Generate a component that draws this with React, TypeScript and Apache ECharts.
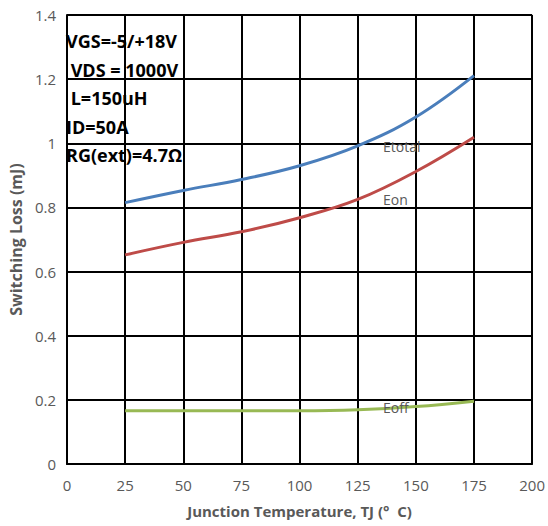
import React, { useEffect, useRef } from "react";
import * as echarts from "echarts";

const temps = [25, 50, 75, 100, 125, 150, 175];
const etotal = [0.815, 0.853, 0.887, 0.93, 0.992, 1.082, 1.211];
const eon = [0.652, 0.691, 0.724, 0.768, 0.825, 0.912, 1.019];
const eoff = [0.166, 0.166, 0.166, 0.166, 0.169, 0.179, 0.196];
const xTicks = [0, 25, 50, 75, 100, 125, 150, 175, 200];
const yTicks = [0, 0.2, 0.4, 0.6, 0.8, 1, 1.2, 1.4];
const conditions = ["VGS=-5/+18V", " VDS = 1000V", " L=150uH", "ID=50A", "RG(ext)=4.7Ω"];
const seriesNames = ["Etotal", "Eon", "Eoff"];

export default function App() {
  const ref = useRef<HTMLDivElement>(null);
  useEffect(() => {
    if (!ref.current) return;
    const chart = echarts.init(ref.current, null, { renderer: "svg" });
    const mk = (vals: number[]) => temps.map((t, i) => [t, vals[i]]);
    const lineSeries = (name: string, vals: number[], color: string) => ({
      name,
      type: "line",
      data: mk(vals),
      smooth: 0.4,
      symbol: "none",
      lineStyle: { color, width: 3 },
      z: 3,
    });
    chart.setOption({
      animation: false,
      backgroundColor: "#ffffff",
      grid: { left: 63, right: 15, top: 15, bottom: 62 },
      xAxis: {
        type: "value",
        min: xTicks[0],
        max: xTicks[xTicks.length - 1],
        interval: 25,
        name: "Junction Temperature, TJ (°  C)",
        nameLocation: "middle",
        nameGap: 39,
        nameTextStyle: { fontFamily: "Open Sans", fontWeight: "bold", fontSize: 15, color: "#595959" },
        axisLine: { lineStyle: { color: "#000", width: 2 } },
        axisTick: { show: false },
        axisLabel: { color: "#595959", fontSize: 15, fontFamily: "Open Sans", margin: 13 },
        splitLine: { show: true, lineStyle: { color: "#000", width: 2 } },
      },
      yAxis: {
        type: "value",
        min: yTicks[0],
        max: yTicks[yTicks.length - 1],
        interval: 0.2,
        name: "Switching Loss (mJ)",
        nameLocation: "middle",
        nameGap: 40,
        nameTextStyle: { fontFamily: "Open Sans", fontWeight: "bold", fontSize: 16, color: "#595959" },
        axisLine: { show: true, lineStyle: { color: "#000", width: 2 } },
        axisTick: { show: false },
        axisLabel: {
          color: "#595959",
          fontSize: 15,
          fontFamily: "Open Sans",
          margin: 11,
          formatter: (v: number) => String(Math.round(v * 10) / 10),
        },
        splitLine: { show: true, lineStyle: { color: "#000", width: 2 } },
      },
      series: [
        lineSeries(seriesNames[0], etotal, "#4A7EBB"),
        lineSeries(seriesNames[1], eon, "#BE4B48"),
        lineSeries(seriesNames[2], eoff, "#98B954"),
      ],
      graphic: [
        ...conditions.map((t, i) => ({
          type: "text",
          left: 66,
          top: 32 + i * 28.5,
          z: 10,
          style: {
            text: t,
            fontFamily: "Open Sans",
            fontWeight: "bold",
            fontSize: 18,
            fill: "#000",
          },
        })),
        { type: "text", left: 383, top: 139, z: 10, style: { text: seriesNames[0], fontFamily: "Open Sans", fontSize: 14, fill: "#595959" } },
        { type: "text", left: 383, top: 192, z: 10, style: { text: seriesNames[1], fontFamily: "Open Sans", fontSize: 14, fill: "#595959" } },
        { type: "text", left: 383, top: 400, z: 10, style: { text: seriesNames[2], fontFamily: "Open Sans", fontSize: 14, fill: "#595959" } },
      ],
    });
    return () => chart.dispose();
  }, []);
  return (
    <div
      ref={ref}
      style={{ position: "absolute", left: 0, top: 0, width: 548, height: 526 }}
    />
  );
}
